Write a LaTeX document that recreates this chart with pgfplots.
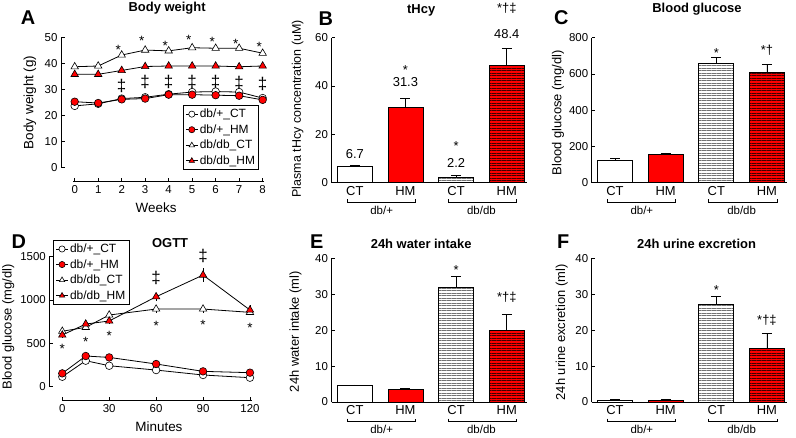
\documentclass[border=0pt]{standalone}
\usepackage{fontspec}
\setmainfont{Liberation Sans}
\usepackage{pgfplots}
\pgfplotsset{compat=1.18}
\usetikzlibrary{patterns.meta,calc}
\definecolor{hmred}{RGB}{255,0,0}
\newcommand{\fs}[1]{\fontsize{#1}{#1}\selectfont}
\newcommand{\brk}[2]{\draw[line width=0.8bp] ($(axis cs:#1,0)+(0bp,-16.5bp)$) -- ($(axis cs:#1,0)+(0bp,-19.5bp)$) -- ($(axis cs:#2,0)+(0bp,-19.5bp)$) -- ($(axis cs:#2,0)+(0bp,-16.5bp)$);}
\newcommand{\grp}[2]{\node[font=\fs{11.5}] at ($(axis cs:#1,0)+(0bp,-27.5bp)$) {#2};}
\newcommand{\ann}[3]{\node[font=\fs{13.5}] at (axis cs:#1,#2) {#3};}
\newcommand{\dd}[2]{\node[font=\fs{17}] at (axis cs:#1,#2) {‡};}
\pgfplotsset{
  base/.style={scale only axis, clip=false, anchor=south west,
    axis x line*=bottom, axis y line*=left,
    axis line style={line width=0.8bp},
    tick align=inside, major tick length=3.5bp,
    tick style={black, line width=0.8bp},
    tick label style={font=\fs{11.5}},
    /pgf/number format/assume math mode=true,
    /pgf/number format/1000 sep={},
    every axis y label/.style={rotate=90, anchor=center, font=\fs{13}},
    every axis x label/.style={anchor=center, font=\fs{13.5}},
    every axis title/.style={anchor=center, font=\bfseries\fs{13}},
  },
  barax/.style={base, width=195bp, xmin=-0.46, xmax=3.39, ymin=0,
    xtick={0,1,2,3}, xticklabels={CT,HM,CT,HM}, major x tick style={draw=none},
    xticklabel style={font=\fs{13}},
  },
  errs/.style={error bars/.cd, y dir=plus, y explicit,
    error bar style={line width=0.8bp, black},
    error mark options={rotate=90, line width=0.8bp, mark size=5bp, black}},
  ctbar/.style={ybar, bar shift=0pt, bar width=35bp, fill=white, draw=black, line width=0.8bp},
  hmbar/.style={ybar, bar shift=0pt, bar width=35bp, fill=hmred, draw=black, line width=0.8bp},
  ctdb/.style={ybar, bar shift=0pt, bar width=35bp, fill=white, draw=black, line width=0.8bp,
    postaction={pattern={Lines[angle=0,distance=2.5bp,line width=0.45bp]}, pattern color=black!55}},
  hmdb/.style={ybar, bar shift=0pt, bar width=35bp, fill=hmred, draw=black, line width=0.8bp,
    postaction={pattern={Lines[angle=0,distance=2.5bp,line width=0.4bp]}, pattern color=black!75!red}},
  lcirc/.style={black, line width=0.8bp, mark=*, mark size=3.8bp, mark options={fill=white, draw=black, line width=0.6bp}},
  lcircr/.style={black, line width=0.8bp, mark=*, mark size=3.8bp, mark options={fill=hmred, draw=black, line width=0.6bp}},
  ltri/.style={black, line width=0.8bp, mark=triangle*, mark size=4.3bp, mark options={fill=white, draw=black, line width=0.6bp}},
  ltrir/.style={black, line width=0.8bp, mark=triangle*, mark size=4.3bp, mark options={fill=hmred, draw=black, line width=0.6bp}},
  lineleg/.style={legend cell align=left,
    legend style={font=\fs{12}, draw=black, line width=0.6bp, row sep=2.2bp, inner sep=2bp,
      nodes={inner sep=1.6bp}},
    legend image code/.code={\draw[mark repeat=2,mark phase=2,##1,mark size=3.1bp] plot coordinates {(0bp,0bp)(6bp,0bp)(12bp,0bp)};}},
}
\begin{document}
\begin{tikzpicture}
% ---------------- A ----------------
\begin{axis}[base, lineleg, at={(61bp,256.3bp)}, width=204bp, height=144.4bp,
  xmin=-0.583, xmax=8.1, ymin=-5.37, ymax=50, xtick={0,...,8}, ytick={0,10,...,50},
  axis line style={draw=none},
  xlabel={Weeks}, xlabel style={at={(axis description cs:0.466,-0.182)}},
  ylabel={Body weight (g)}, ylabel style={at={(axis description cs:-0.152,0.55)}, font=\fs{13.5}},
  title={Body weight}, title style={at={(axis description cs:0.52,1.2)}},
  legend style={at={(axis description cs:0.97,0.53)}, anchor=north east}]
\draw[line width=0.8bp] (axis cs:-0.583,0) -- (axis cs:-0.583,50);
\draw[line width=0.8bp] (axis cs:-0.08,-5.37) -- (axis cs:8.06,-5.37);
\addplot[lcirc] coordinates {(0,23.7)(1,24.5)(2,26.5)(3,27)(4,28.2)(5,29)(6,29.2)(7,29)(8,26.7)};
\addlegendentry{db/+\_CT}
\addplot[lcircr] coordinates {(0,25.3)(1,24.8)(2,26.2)(3,26.5)(4,28)(5,28)(6,27.8)(7,27.6)(8,26)};
\addlegendentry{db/+\_HM}
\addplot[ltri] coordinates {(0,38.7)(1,39)(2,43.2)(3,45.1)(4,44.8)(5,46)(6,45.8)(7,45.8)(8,43.9)};
\addlegendentry{db/db\_CT}
\addplot[ltrir] coordinates {(0,35.8)(1,35.8)(2,37.3)(3,38.8)(4,39)(5,39)(6,39)(7,38.7)(8,39)};
\addlegendentry{db/db\_HM}
\ann{1.85}{45.3}{*}\ann{2.85}{48.5}{*}\ann{3.85}{46.6}{*}\ann{4.85}{49.1}{*}
\ann{5.85}{48.3}{*}\ann{6.85}{47.5}{*}\ann{7.85}{46.2}{*}
\dd{2}{31.2}\dd{3}{32.7}\dd{4}{32.7}\dd{5}{32.7}
\dd{6}{32.7}\dd{7}{32.5}\dd{8}{32.0}
\end{axis}
% ---------------- B ----------------
\begin{axis}[barax, at={(331.5bp,255.3bp)}, height=145bp, ymax=60, ytick={0,20,40,60},
  ylabel={Plasma tHcy concentration (uM)}, ylabel style={at={(axis description cs:-0.173,0.51)}, font=\fs{12.5}},
  title={tHcy}, title style={at={(axis description cs:0.46,1.19)}}]
\addplot[ctbar, errs] coordinates {(0,6.7) +- (0,0.5)};
\addplot[hmbar, errs] coordinates {(1,31.3) +- (0,3.6)};
\addplot[ctdb, errs] coordinates {(2,2.2) +- (0,0.7)};
\addplot[hmdb, errs] coordinates {(3,48.4) +- (0,7.2)};
\node[font=\fs{13}] at (axis cs:0,11.9) {6.7};
\node[font=\fs{13}] at (axis cs:1,41.8) {31.3};
\node[font=\fs{13}] at (axis cs:2,8.2) {2.2};
\node[font=\fs{13}] at (axis cs:3,61.4) {48.4};
\node[font=\fs{13}] at (axis cs:1,46.8) {*};
\node[font=\fs{13}] at (axis cs:2,15.1) {*};
\node[font=\fs{13}] at (axis cs:3,72.0) {*†‡};
\brk{-0.15}{1.2}\brk{1.85}{3.2}
\grp{0.53}{db/+}\grp{2.5}{db/db}
\end{axis}
% ---------------- C ----------------
\begin{axis}[barax, at={(591.7bp,255.3bp)}, height=145bp, ymax=800, ytick={0,200,...,800},
  ylabel={Blood glucose (mg/dl)}, ylabel style={at={(axis description cs:-0.173,0.483)}},
  title={Blood glucose}, title style={at={(axis description cs:0.54,1.2)}}]
\addplot[ctbar, errs] coordinates {(0,125) +- (0,10)};
\addplot[hmbar, errs] coordinates {(1,155) +- (0,9)};
\addplot[ctdb, errs] coordinates {(2,656) +- (0,33)};
\addplot[hmdb, errs] coordinates {(3,610) +- (0,42)};
\node[font=\fs{13}] at (axis cs:2,715) {*};
\node[font=\fs{13}] at (axis cs:3,730) {*†};
\brk{-0.15}{1.2}\brk{1.85}{3.2}
\grp{0.53}{db/+}\grp{2.5}{db/db}
\end{axis}
% ---------------- D ----------------
\begin{axis}[base, lineleg, at={(49.3bp,37.3bp)}, width=203bp, height=144bp,
  xmin=-8.3, xmax=121.5, ymin=-161.5, ymax=1500, xtick={0,30,...,120}, ytick={0,500,1000,1500},
  axis line style={draw=none},
  xlabel={Minutes}, xlabel style={at={(axis description cs:0.54,-0.18)}},
  ylabel={Blood glucose (mg/dl)}, ylabel style={at={(axis description cs:-0.202,0.512)}},
  title={OGTT}, title style={at={(axis description cs:0.595,1.093)}},
  legend style={at={(axis description cs:0.02,1.116)}, anchor=north west}]
\draw[line width=0.8bp] (axis cs:-8.3,0) -- (axis cs:-8.3,1500);
\draw[line width=0.8bp] (axis cs:0,-161.5) -- (axis cs:121,-161.5);
\addplot[lcirc] coordinates {(0,115)(15,300)(30,242)(60,192)(90,135)(120,104)};
\addlegendentry{db/+\_CT}
\addplot[lcircr] coordinates {(0,154)(15,354)(30,338)(60,262)(90,177)(120,162)};
\addlegendentry{db/+\_HM}
\addplot[ltri, error bars/.cd, y dir=both, y explicit, error mark=none, error bar style={line width=0.8bp}]
  coordinates {(0,640)+-(0,40)(15,685)+-(0,30)(30,827)+-(0,40)(60,896)+-(0,40)(90,896)+-(0,40)(120,858)+-(0,30)};
\addlegendentry{db/db\_CT}
\addplot[ltrir, error bars/.cd, y dir=both, y explicit, error mark=none, error bar style={line width=0.8bp}]
  coordinates {(0,596)+-(0,35)(15,723)+-(0,30)(30,758)+-(0,30)(60,1038)+-(0,45)(90,1288)+-(0,80)(120,885)+-(0,60)};
\addlegendentry{db/db\_HM}
\ann{0}{436}{*}\ann{15}{513}{*}\ann{30}{582}{*}\ann{60}{705}{*}\ann{90}{717}{*}\ann{120}{678}{*}
\dd{60}{1250}\dd{90}{1508}
\end{axis}
% ---------------- E ----------------
\begin{axis}[barax, at={(331.5bp,36bp)}, height=143.5bp, ymax=40, ytick={0,10,...,40},
  ylabel={24h water intake (ml)}, ylabel style={at={(axis description cs:-0.185,0.49)}},
  title={24h water intake}, title style={at={(axis description cs:0.46,1.104)}}]
\addplot[ctbar, errs] coordinates {(0,4.6) +- (0,0.15)};
\addplot[hmbar, errs] coordinates {(1,3.4) +- (0,0.5)};
\addplot[ctdb, errs] coordinates {(2,31.9) +- (0,3.0)};
\addplot[hmdb, errs] coordinates {(3,19.9) +- (0,4.5)};
\node[font=\fs{13}] at (axis cs:2,36.7) {*};
\node[font=\fs{13}] at (axis cs:3,29.2) {*†‡};
\brk{-0.15}{1.2}\brk{1.85}{3.2}
\grp{0.53}{db/+}\grp{2.5}{db/db}
\end{axis}
% ---------------- F ----------------
\begin{axis}[barax, at={(591.7bp,36bp)}, height=143.5bp, ymax=40, ytick={0,10,...,40},
  ylabel={24h urine excretion (ml)}, ylabel style={at={(axis description cs:-0.154,0.486)}},
  title={24h urine excretion}, title style={at={(axis description cs:0.538,1.105)}}]
\addplot[ctbar, errs] coordinates {(0,0.5) +- (0,0.1)};
\addplot[hmbar, errs] coordinates {(1,0.5) +- (0,0.1)};
\addplot[ctdb, errs] coordinates {(2,27.1) +- (0,2.2)};
\addplot[hmdb, errs] coordinates {(3,15.0) +- (0,4.0)};
\node[font=\fs{13}] at (axis cs:2,31.1) {*};
\node[font=\fs{13}] at (axis cs:3,22.8) {*†‡};
\brk{-0.15}{1.2}\brk{1.85}{3.2}
\grp{0.53}{db/+}\grp{2.5}{db/db}
\end{axis}
% panel letters
\node[font=\bfseries\fs{20}] at (28bp,420bp) {A};
\node[font=\bfseries\fs{20}] at (325.7bp,419.2bp) {B};
\node[font=\bfseries\fs{20}] at (561.3bp,420bp) {C};
\node[font=\bfseries\fs{20}] at (18.8bp,196.3bp) {D};
\node[font=\bfseries\fs{20}] at (316.7bp,196.3bp) {E};
\node[font=\bfseries\fs{20}] at (563.3bp,196.3bp) {F};
\pgfresetboundingbox
\path (0bp,0bp) rectangle (796bp,438bp);
\end{tikzpicture}
\end{document}
